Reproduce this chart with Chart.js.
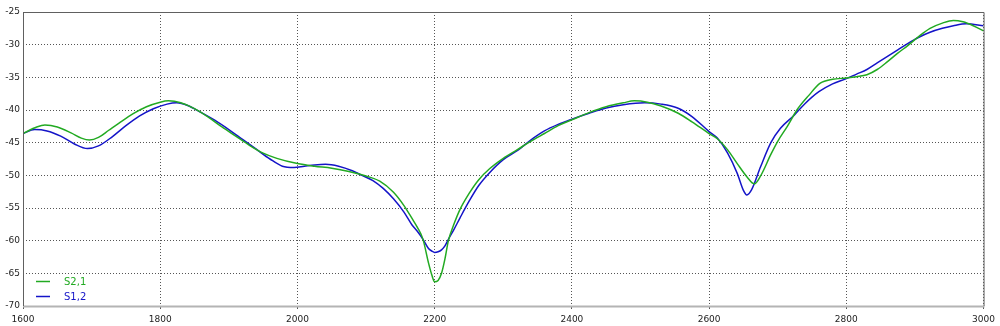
<!DOCTYPE html>
<html>
<head>
<meta charset="utf-8">
<script src="https://cdn.jsdelivr.net/npm/chart.js@4/dist/chart.umd.min.js"></script>
<style>
  html, body { margin: 0; padding: 0; background: #ffffff; }
  #c { display: block; }
</style>
</head>
<body>
<canvas id="c" width="1000" height="326"></canvas>
<script>
// Frequency axis ticks and value axis ticks
const xTicks = [1600, 1800, 2000, 2200, 2400, 2600, 2800, 3000];
const yTicks = [-70, -65, -60, -55, -50, -45, -40, -35, -30, -25];

// Series S2,1 (green)
const freqS21 = [1600,1620,1632,1650,1670,1685,1697,1710,1725,1740,1760,1780,1800,1812,1830,1850,1870,1890,1910,1930,1950,1970,2000,2025,2050,2075,2100,2120,2140,2155,2167,2175,2183,2191,2196,2200,2205,2210,2215,2220,2228,2237,2250,2264,2280,2300,2320,2340,2360,2380,2400,2425,2450,2475,2491,2510,2530,2555,2575,2600,2612,2627,2641,2655,2666,2675,2690,2700,2714,2728,2745,2762,2780,2800,2815,2830,2845,2860,2875,2890,2905,2922,2940,2956,2970,2985,3000];
const valS21  = [-43.6,-42.6,-42.3,-42.6,-43.5,-44.3,-44.6,-44.2,-43.1,-42.0,-40.6,-39.5,-38.8,-38.6,-38.9,-39.8,-41.1,-42.6,-44.0,-45.4,-46.6,-47.4,-48.2,-48.6,-48.9,-49.4,-50.1,-50.9,-52.6,-54.6,-56.6,-58.0,-59.8,-63.4,-65.3,-66.3,-66.1,-65.0,-62.8,-60.0,-57.5,-55.2,-52.8,-50.7,-49.0,-47.4,-46.1,-44.8,-43.6,-42.4,-41.5,-40.4,-39.5,-38.9,-38.6,-38.8,-39.4,-40.5,-41.8,-43.6,-44.4,-46.1,-48.2,-50.2,-51.3,-50.1,-46.8,-44.8,-42.5,-40.0,-37.8,-35.9,-35.3,-35.1,-34.9,-34.6,-33.8,-32.6,-31.3,-30.1,-28.8,-27.5,-26.7,-26.3,-26.5,-27.1,-27.9];

// Series S1,2 (blue)
const freqS12 = [1600,1617,1635,1655,1675,1694,1710,1730,1750,1770,1790,1810,1824,1840,1860,1880,1900,1920,1940,1960,1978,1995,2010,2025,2041,2060,2080,2094,2110,2125,2140,2155,2167,2175,2183,2191,2196,2200,2205,2210,2215,2220,2228,2237,2250,2264,2280,2300,2322,2340,2360,2380,2400,2425,2450,2475,2506,2530,2554,2575,2600,2612,2627,2641,2650,2655,2662,2675,2690,2704,2724,2740,2760,2780,2800,2815,2830,2845,2860,2875,2890,2905,2922,2940,2956,2975,3000];
const valS12  = [-43.6,-43.0,-43.2,-44.0,-45.2,-45.9,-45.5,-44.1,-42.4,-40.9,-39.8,-39.1,-38.9,-39.3,-40.4,-41.6,-43.0,-44.5,-46.0,-47.5,-48.6,-48.8,-48.6,-48.4,-48.3,-48.6,-49.3,-50.0,-50.8,-52.0,-53.6,-55.6,-57.6,-58.6,-59.8,-61.2,-61.6,-61.8,-61.7,-61.4,-60.8,-59.8,-58.3,-56.5,-54.0,-51.6,-49.6,-47.6,-46.1,-44.6,-43.2,-42.2,-41.4,-40.5,-39.7,-39.2,-38.9,-39.1,-39.7,-41.0,-43.3,-44.3,-46.6,-49.7,-52.3,-53.0,-52.2,-48.7,-45.0,-42.8,-40.8,-39.0,-37.2,-36.0,-35.2,-34.5,-33.8,-32.8,-31.8,-30.8,-29.8,-28.9,-28.1,-27.5,-27.1,-26.8,-27.1];

const seriesNames = ["S2,1", "S1,2"];
const seriesColors = ["#22aa22", "#1414c8"];

const toPoints = (xs, ys) => xs.map((x, i) => ({ x: x, y: ys[i] }));

const FONT = { family: "'DejaVu Sans', sans-serif", size: 9 };

const frameAndLegend = {
  id: 'frameAndLegend',
  afterDatasetsDraw(chart) {
    const { ctx, chartArea: a } = chart;
    ctx.save();
    // bottom axis line (light grey, thicker)
    ctx.strokeStyle = '#b4b4b4';
    ctx.lineWidth = 2;
    ctx.beginPath();
    ctx.moveTo(a.left, a.bottom + 0.5);
    ctx.lineTo(a.right + 1, a.bottom + 0.5);
    ctx.stroke();
    // left, top, right borders
    ctx.strokeStyle = '#606060';
    ctx.lineWidth = 1;
    ctx.beginPath();
    ctx.moveTo(a.left + 0.5, a.bottom);
    ctx.lineTo(a.left + 0.5, a.top + 0.5);
    ctx.lineTo(a.right + 0.5, a.top + 0.5);
    ctx.lineTo(a.right + 0.5, a.bottom);
    ctx.stroke();
    // legend inside plot, bottom-left
    ctx.font = "10px 'DejaVu Sans', sans-serif";
    ctx.textBaseline = 'middle';
    ctx.textAlign = 'left';
    chart.data.datasets.forEach((ds, i) => {
      const y = a.bottom - 25 + i * 15;
      ctx.strokeStyle = ds.borderColor;
      ctx.lineWidth = 1.5;
      ctx.beginPath();
      ctx.moveTo(a.left + 13, y + 0.5);
      ctx.lineTo(a.left + 27, y + 0.5);
      ctx.stroke();
      ctx.fillStyle = ds.borderColor;
      ctx.fillText(ds.label, a.left + 41, y + 1);
    });
    ctx.restore();
  }
};

new Chart(document.getElementById('c'), {
  type: 'line',
  data: {
    datasets: [
      { label: seriesNames[0], data: toPoints(freqS21, valS21), borderColor: seriesColors[0], borderWidth: 1.5, pointRadius: 0, cubicInterpolationMode: 'monotone', fill: false },
      { label: seriesNames[1], data: toPoints(freqS12, valS12), borderColor: seriesColors[1], borderWidth: 1.5, pointRadius: 0, cubicInterpolationMode: 'monotone', fill: false }
    ]
  },
  options: {
    responsive: false,
    animation: false,
    devicePixelRatio: 1,
    layout: { padding: { top: 12, right: 13, left: 0, bottom: 0 } },
    plugins: { legend: { display: false }, tooltip: { enabled: false } },
    scales: {
      x: {
        type: 'linear',
        min: xTicks[0],
        max: xTicks[xTicks.length - 1],
        afterBuildTicks: (s) => { s.ticks = xTicks.map(v => ({ value: v })); },
        afterFit: (s) => { s.height = 20; },
        ticks: { color: '#222', font: FONT, padding: 5, maxRotation: 0, callback: (v) => String(v) },
        grid: { color: '#555', tickLength: 3, lineWidth: 1 },
        border: { display: false, dash: [1, 2] }
      },
      y: {
        type: 'linear',
        min: yTicks[0],
        max: yTicks[yTicks.length - 1],
        afterBuildTicks: (s) => { s.ticks = yTicks.map(v => ({ value: v })); },
        afterFit: (s) => { s.width = 23; },
        ticks: { color: '#222', font: FONT, padding: 3, callback: (v) => String(v) },
        grid: { color: '#555', tickLength: 0, lineWidth: 1 },
        border: { display: false, dash: [1, 2] }
      }
    }
  },
  plugins: [frameAndLegend]
});
</script>
</body>
</html>
